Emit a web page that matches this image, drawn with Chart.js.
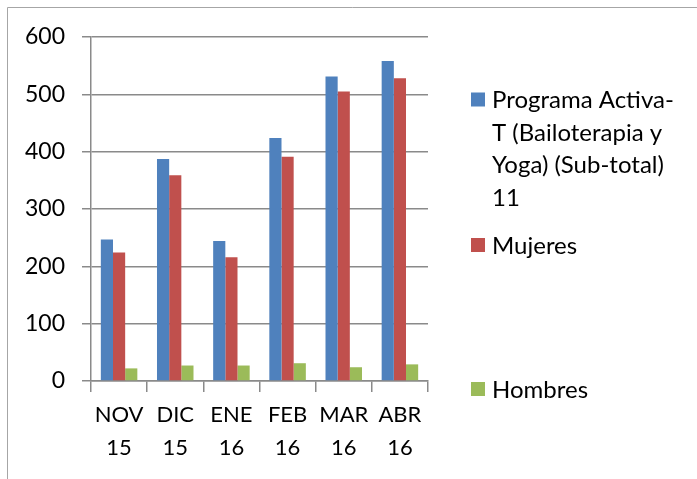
<!DOCTYPE html>
<html>
<head>
<meta charset="utf-8">
<script src="https://cdn.jsdelivr.net/npm/chart.js@4.4.1/dist/chart.umd.min.js"></script>
<style>
  html, body { margin: 0; padding: 0; background: #ffffff; }
  #wrap { width: 697px; height: 479px; position: relative; }
</style>
</head>
<body>
<div id="wrap"><canvas id="c" width="697" height="479"></canvas></div>
<script>
// ---- data ----
const months = ["NOV", "DIC", "ENE", "FEB", "MAR", "ABR"];
const years = ["15", "15", "16", "16", "16", "16"];
const seriesNames = ["Programa Activa-T (Bailoterapia y Yoga) (Sub-total) 11", "Mujeres", "Hombres"];
const legendLines = [["Programa Activa-", "T (Bailoterapia y", "Yoga) (Sub-total)", "11"], ["Mujeres"], ["Hombres"]];
const programaValues = [247, 387, 244, 424, 531, 558];
const mujeresValues = [224, 359, 216, 391, 505, 528];
const hombresValues = [22, 27, 27, 31, 24, 29];
const yTicks = [0, 100, 200, 300, 400, 500, 600];

const colors = ["#4F81BD", "#C0504D", "#9BBB59"];
const gridColor = "#8a8a8a";
const FONT = "Lato, 'Open Sans', sans-serif";

const labels = months.map((m, i) => [m, years[i]]);

const borderPlugin = {
  id: "outerBorder",
  beforeDraw(chart) {
    const ctx = chart.ctx;
    ctx.save();
    ctx.fillStyle = "#ffffff";
    ctx.fillRect(0, 0, chart.width, chart.height);
    ctx.strokeStyle = "#a6a6a6";
    ctx.lineWidth = 1;
    ctx.beginPath();
    ctx.moveTo(7.5, chart.height);
    ctx.lineTo(7.5, 7.5);
    ctx.lineTo(chart.width, 7.5);
    ctx.stroke();
    ctx.restore();
  }
};

const legendPlugin = {
  id: "excelLegend",
  afterDraw(chart) {
    const ctx = chart.ctx;
    const centers = [99.5, 245, 389];
    const lineStep = 32.6;
    ctx.save();
    ctx.font = "24px " + FONT;
    ctx.textBaseline = "middle";
    ctx.textAlign = "left";
    chart.data.datasets.forEach((ds, i) => {
      const cy = centers[i];
      ctx.fillStyle = ds.backgroundColor;
      ctx.fillRect(471, cy - 7, 14, 14);
      ctx.fillStyle = "#000000";
      legendLines[i].forEach((line, k) => {
        ctx.fillText(line, 492, cy + 1 + k * lineStep);
      });
    });
    ctx.restore();
  }
};

new Chart(document.getElementById("c"), {
  type: "bar",
  data: {
    labels: labels,
    datasets: [
      { label: seriesNames[0], data: programaValues, backgroundColor: colors[0] },
      { label: seriesNames[1], data: mujeresValues, backgroundColor: colors[1] },
      { label: seriesNames[2], data: hombresValues, backgroundColor: colors[2] }
    ]
  },
  options: {
    responsive: false,
    animation: false,
    devicePixelRatio: 1,
    layout: { padding: { top: 37, right: 269, left: 0, bottom: 0 } },
    datasets: { bar: { categoryPercentage: 0.65, barPercentage: 1.0 } },
    plugins: {
      legend: { display: false },
      tooltip: { enabled: false },
      title: { display: false }
    },
    scales: {
      x: {
        offset: true,
        grid: {
          offset: true,
          drawOnChartArea: false,
          drawTicks: true,
          tickLength: 11,
          color: gridColor,
          lineWidth: 1.5
        },
        border: { display: true, color: gridColor, width: 1.5 },
        ticks: {
          autoSkip: false,
          maxRotation: 0,
          minRotation: 0,
          color: "#000000",
          padding: 6,
          font: { family: FONT, size: 22, lineHeight: 1.5 }
        },
        afterFit(scale) { scale.height = 98; }
      },
      y: {
        min: 0,
        max: 600,
        afterBuildTicks(scale) { scale.ticks = yTicks.map(v => ({ value: v })); },
        grid: {
          drawTicks: true,
          tickLength: 9,
          color: gridColor,
          lineWidth: 1.5
        },
        border: { display: true, color: gridColor, width: 1.5 },
        ticks: {
          color: "#000000",
          padding: 17,
          font: { family: FONT, size: 23 }
        },
        afterFit(scale) { scale.width = 91; }
      }
    }
  },
  plugins: [borderPlugin, legendPlugin]
});
</script>
</body>
</html>
